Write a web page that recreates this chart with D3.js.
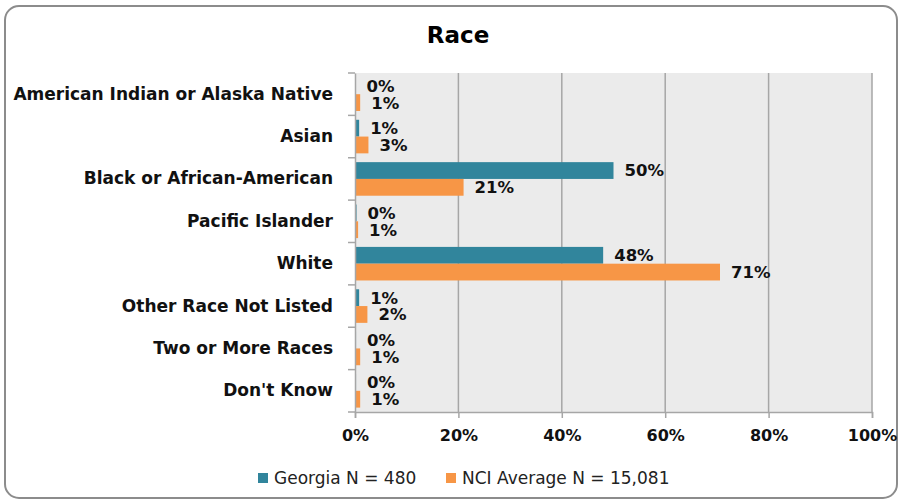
<!DOCTYPE html>
<html>
<head>
<meta charset="utf-8">
<script src="https://cdn.jsdelivr.net/npm/d3@7"></script>
<style>
  body { margin: 0; background: #fff; }
  svg { display: block; font-family: "DejaVu Sans", Verdana, sans-serif; }
</style>
</head>
<body>
<svg width="903" height="501"></svg>
<script>
const categories = [
  "American Indian or Alaska Native",
  "Asian",
  "Black or African-American",
  "Pacific Islander",
  "White",
  "Other Race Not Listed",
  "Two or More Races",
  "Don't Know"
];
const seriesNames = ["Georgia N = 480", "NCI Average N = 15,081"];
const georgia = [0.1, 0.8, 50, 0.3, 48, 0.8, 0.2, 0.2];
const nciAverage = [1, 2.6, 21, 0.6, 70.6, 2.4, 1, 1];
const xTicks = [0, 20, 40, 60, 80, 100];
const colors = ["#31859C", "#F79646"];

const svg = d3.select("svg");
const font = "DejaVu Sans, Verdana, sans-serif";

// outer frame
svg.append("rect")
  .attr("x", 5).attr("y", 6)
  .attr("width", 892).attr("height", 492)
  .attr("rx", 14)
  .attr("fill", "#fff")
  .attr("stroke", "#8c8c8c")
  .attr("stroke-width", 2);

svg.append("text")
  .attr("x", 458).attr("y", 43)
  .attr("text-anchor", "middle")
  .attr("font-weight", "bold")
  .attr("font-size", 23)
  .text("Race");

const plot = { left: 355, right: 872, top: 73, bottom: 412 };

const x = d3.scaleLinear().domain([0, 100]).range([plot.left, plot.right]);
const y = d3.scaleBand().domain(categories).range([plot.top, plot.bottom]);
const inner = d3.scaleBand().domain([0, 1]).range([4.4, y.bandwidth() - 4.4]);

svg.append("rect")
  .attr("x", plot.left).attr("y", plot.top)
  .attr("width", plot.right - plot.left).attr("height", plot.bottom - plot.top)
  .attr("fill", "#EBEBEB");

// gridlines
svg.append("g")
  .selectAll("line")
  .data(xTicks.slice(1))
  .join("line")
  .attr("x1", d => x(d)).attr("x2", d => x(d))
  .attr("y1", plot.top).attr("y2", plot.bottom)
  .attr("stroke", "#A6A6A6")
  .attr("stroke-width", 1.5);

// bars
const rows = categories.map((c, i) => ({ c, vals: [georgia[i], nciAverage[i]] }));
const fmt = v => Math.round(v) + "%";

const grp = svg.append("g")
  .selectAll("g")
  .data(rows)
  .join("g")
  .attr("transform", d => `translate(0,${y(d.c)})`);

grp.selectAll("rect")
  .data(d => d.vals)
  .join("rect")
  .attr("x", x(0))
  .attr("y", (d, i) => inner(i))
  .attr("width", d => x(d) - x(0))
  .attr("height", inner.bandwidth())
  .attr("fill", (d, i) => colors[i]);

grp.selectAll("text")
  .data(d => d.vals)
  .join("text")
  .attr("x", d => x(d) + 11)
  .attr("y", (d, i) => inner(i) + inner.bandwidth() / 2)
  .attr("dy", "0.36em")
  .attr("font-weight", "bold")
  .attr("font-size", 16.5)
  .attr("fill", "#111")
  .text(d => fmt(d));

// y axis
const yAxis = svg.append("g")
  .attr("transform", `translate(${plot.left},0)`)
  .call(d3.axisLeft(y).tickSize(0).tickPadding(22));
yAxis.select(".domain").attr("stroke", "#A6A6A6").attr("stroke-width", 1.5);
yAxis.selectAll("text")
  .attr("font-size", 17)
  .attr("font-weight", "bold")
  .attr("fill", "#111")
  .attr("font-family", font);
svg.append("g")
  .selectAll("line")
  .data(categories.map(c => y(c)).concat([plot.bottom]))
  .join("line")
  .attr("x1", plot.left - 7).attr("x2", plot.left)
  .attr("y1", d => d).attr("y2", d => d)
  .attr("stroke", "#A6A6A6").attr("stroke-width", 1.5);

// x axis
const xAxis = svg.append("g")
  .attr("transform", `translate(0,${plot.bottom})`)
  .call(d3.axisBottom(x).tickValues(xTicks).tickSize(6).tickPadding(12)
    .tickFormat(d => d + "%"));
xAxis.select(".domain").attr("stroke", "#A6A6A6").attr("stroke-width", 1.5);
xAxis.selectAll("line").attr("stroke", "#A6A6A6").attr("stroke-width", 1.5);
xAxis.selectAll("text")
  .attr("font-size", 16)
  .attr("font-weight", "bold")
  .attr("fill", "#111")
  .attr("font-family", font);

// legend
const legendX = [258, 446];
const legend = svg.append("g")
  .selectAll("g")
  .data(seriesNames)
  .join("g")
  .attr("transform", (d, i) => `translate(${legendX[i]},478)`);
legend.append("rect")
  .attr("x", 0).attr("y", -5)
  .attr("width", 10).attr("height", 10)
  .attr("fill", (d, i) => colors[i]);
legend.append("text")
  .attr("x", 16).attr("y", 0)
  .attr("dy", "0.35em")
  .attr("font-size", 17)
  .attr("fill", "#222")
  .text(d => d);
</script>
</body>
</html>
